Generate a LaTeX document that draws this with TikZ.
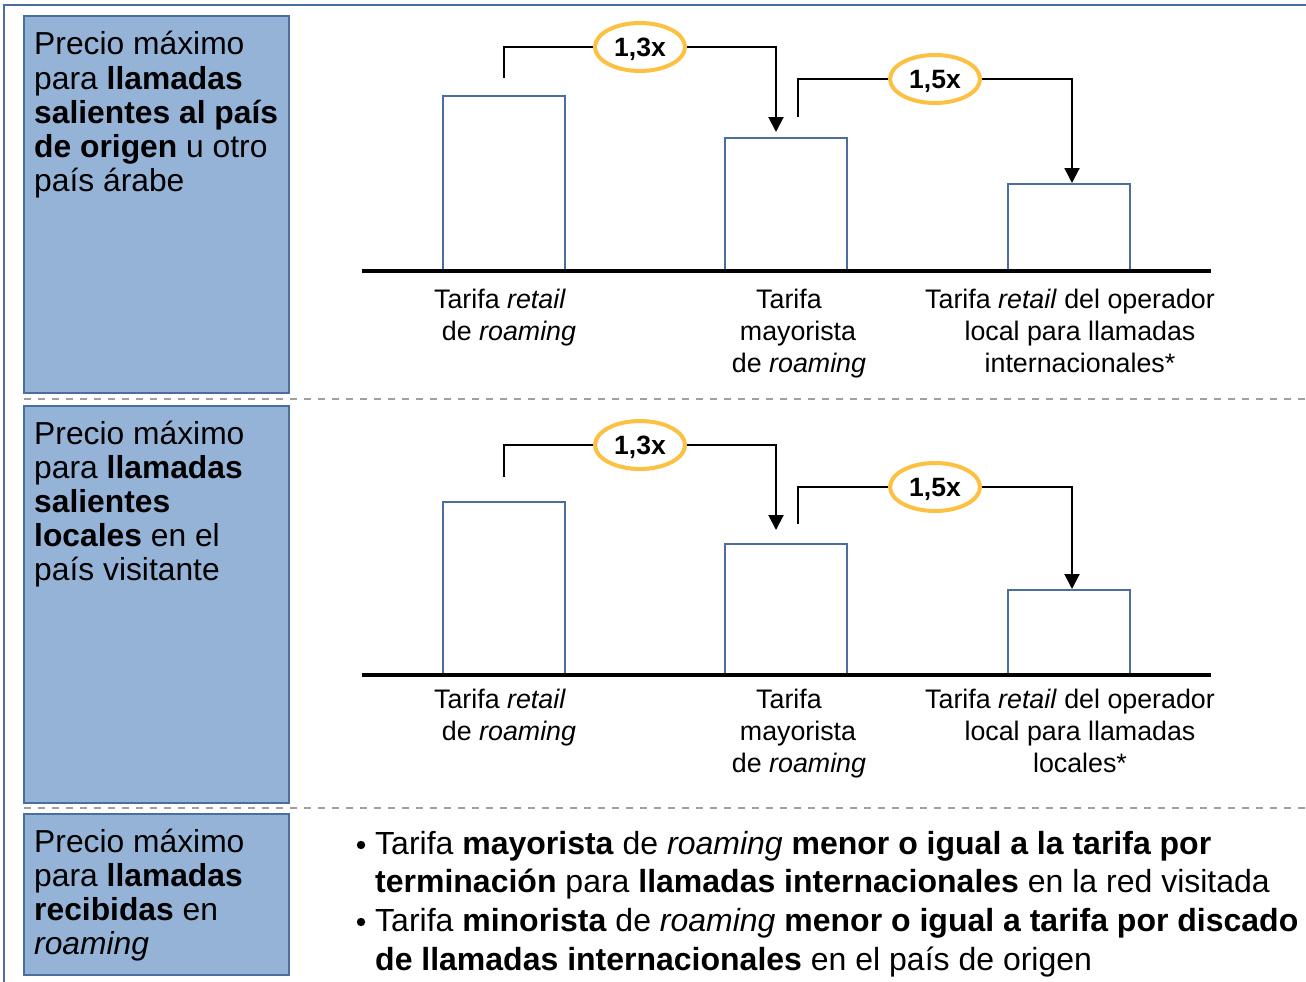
\documentclass[tikz,border=0pt]{standalone}
\usepackage{fontspec}
\setmainfont{Liberation Sans}
\usetikzlibrary{arrows.meta,shapes.geometric}
\definecolor{boxfill}{RGB}{149,179,215}
\definecolor{boxline}{RGB}{74,110,158}
\definecolor{ringc}{RGB}{252,192,67}
\definecolor{dashc}{RGB}{160,160,160}
\tikzset{
  frameline/.style={draw=boxline, line width=2pt},
  bluebox/.style={draw=boxline, fill=boxfill, line width=2pt},
  dashsep/.style={draw=dashc, line width=2pt, dash pattern=on 7pt off 7pt},
  barbox/.style={draw=boxline, line width=2pt},
  axisline/.style={draw=black, line width=4pt},
  conn/.style={draw=black, line width=2pt},
  connarrow/.style={conn, -{Triangle[width=15pt,length=15pt]}},
  ring/.style={ellipse, draw=ringc, fill=white, line width=4pt, minimum width=90pt, minimum height=48pt, inner sep=0pt, text height=19pt, text depth=0pt, font=\fontsize{26.5}{30}\selectfont\bfseries},
  boxtxt/.style={anchor=base west, inner sep=0pt, font=\fontsize{31.8}{34}\selectfont},
  lbl/.style={anchor=base, inner sep=0pt, font=\fontsize{26.8}{32}\selectfont},
  bultxt/.style={anchor=base west, inner sep=0pt, font=\fontsize{32}{38}\selectfont},
}
\begin{document}
\begin{tikzpicture}[x=1pt,y=-1pt]
\useasboundingbox (0,0) rectangle (1306,982);
% outer frame
\draw[frameline] (4,995) -- (4,5) -- (1315,5);
% left boxes
\draw[bluebox] (24,16) rectangle (289,393);
\draw[bluebox] (24,406) rectangle (289,803);
\draw[bluebox] (24,814) rectangle (289,975);
% separators
\draw[dashsep] (24,399) -- (1306,399);
\draw[dashsep] (24,808) -- (1306,808);

% box 1 text
\node[boxtxt] (t11) at (34,55) {Precio máximo};
\node[boxtxt] (t12) at (34,89) {para \textbf{llamadas}};
\node[boxtxt] (t13) at (34,123) {\textbf{salientes al país}};
\node[boxtxt] (t14) at (34,157) {\textbf{de origen} u otro};
\node[boxtxt] (t15) at (34,191) {país árabe};
% box 2 text
\node[boxtxt] (t21) at (34,444) {Precio máximo};
\node[boxtxt] (t22) at (34,478) {para \textbf{llamadas}};
\node[boxtxt] (t23) at (34,512) {\textbf{salientes}};
\node[boxtxt] (t24) at (34,546) {\textbf{locales} en el};
\node[boxtxt] (t25) at (34,580) {país visitante};
% box 3 text
\node[boxtxt] (t31) at (34,852) {Precio máximo};
\node[boxtxt] (t32) at (34,886) {para \textbf{llamadas}};
\node[boxtxt] (t33) at (34,920) {\textbf{recibidas} en};
\node[boxtxt] (t34) at (34,954) {\textit{roaming}};

% ---------- chart 1 ----------
\draw[barbox] (443,271) -- (443,96) -- (565,96) -- (565,271);
\draw[barbox] (725,271) -- (725,138) -- (847,138) -- (847,271);
\draw[barbox] (1008,271) -- (1008,184) -- (1130,184) -- (1130,271);
\draw[axisline] (362,271) -- (1211,271);

\coordinate (a1s) at (504,78);
\coordinate (a1e) at (776,132);
\coordinate (b1s) at (798,117);
\coordinate (b1e) at (1072,183);
\draw[conn] (a1s) |- (640,47);
\draw[connarrow] (640,47) -| (a1e);
\draw[conn] (b1s) |- (935,79);
\draw[connarrow] (935,79) -| (b1e);
\node[ring] (r11) at (640,47) {1,3x};
\node[ring] (r12) at (935,79) {1,5x};

\node[lbl] (l111) at (500,308) {Tarifa \textit{retail}};
\node[lbl] (l112) at (509,340) {de \textit{roaming}};
\node[lbl] (l121) at (789,308) {Tarifa};
\node[lbl] (l122) at (798,340) {mayorista};
\node[lbl] (l123) at (799,372) {de \textit{roaming}};
\node[lbl] (l131) at (1070,308) {Tarifa \textit{retail} del operador};
\node[lbl] (l132) at (1080,340) {local para llamadas};
\node[lbl] (l133) at (1080,372) {internacionales*};

% ---------- chart 2 ----------
\draw[barbox] (443,675) -- (443,502) -- (565,502) -- (565,675);
\draw[barbox] (725,675) -- (725,544) -- (847,544) -- (847,675);
\draw[barbox] (1008,675) -- (1008,590) -- (1130,590) -- (1130,675);
\draw[axisline] (362,675) -- (1211,675);

\coordinate (a2s) at (504,477);
\coordinate (a2e) at (776,530);
\coordinate (b2s) at (798,524);
\coordinate (b2e) at (1072,589);
\draw[conn] (a2s) |- (640,445);
\draw[connarrow] (640,445) -| (a2e);
\draw[conn] (b2s) |- (935,487);
\draw[connarrow] (935,487) -| (b2e);
\node[ring] (r21) at (640,445) {1,3x};
\node[ring] (r22) at (935,487) {1,5x};

\node[lbl] (l211) at (500,708) {Tarifa \textit{retail}};
\node[lbl] (l212) at (509,740) {de \textit{roaming}};
\node[lbl] (l221) at (789,708) {Tarifa};
\node[lbl] (l222) at (798,740) {mayorista};
\node[lbl] (l223) at (799,772) {de \textit{roaming}};
\node[lbl] (l231) at (1070,708) {Tarifa \textit{retail} del operador};
\node[lbl] (l232) at (1080,740) {local para llamadas};
\node[lbl] (l233) at (1080,772) {locales*};

% ---------- bullets ----------
\fill (361,845) circle (4.2pt);
\fill (361,922) circle (4.2pt);
\node[bultxt] (u11) at (375,854) {Tarifa \textbf{mayorista} de \textit{roaming} \textbf{menor o igual a la tarifa por}};
\node[bultxt] (u12) at (375,892) {\textbf{terminación} para \textbf{llamadas internacionales} en la red visitada};
\node[bultxt] (u21) at (375,931) {Tarifa \textbf{minorista} de \textit{roaming} \textbf{menor o igual a tarifa por discado}};
\node[bultxt] (u22) at (375,970) {\textbf{de llamadas internacionales} en el país de origen};
\end{tikzpicture}
\end{document}
